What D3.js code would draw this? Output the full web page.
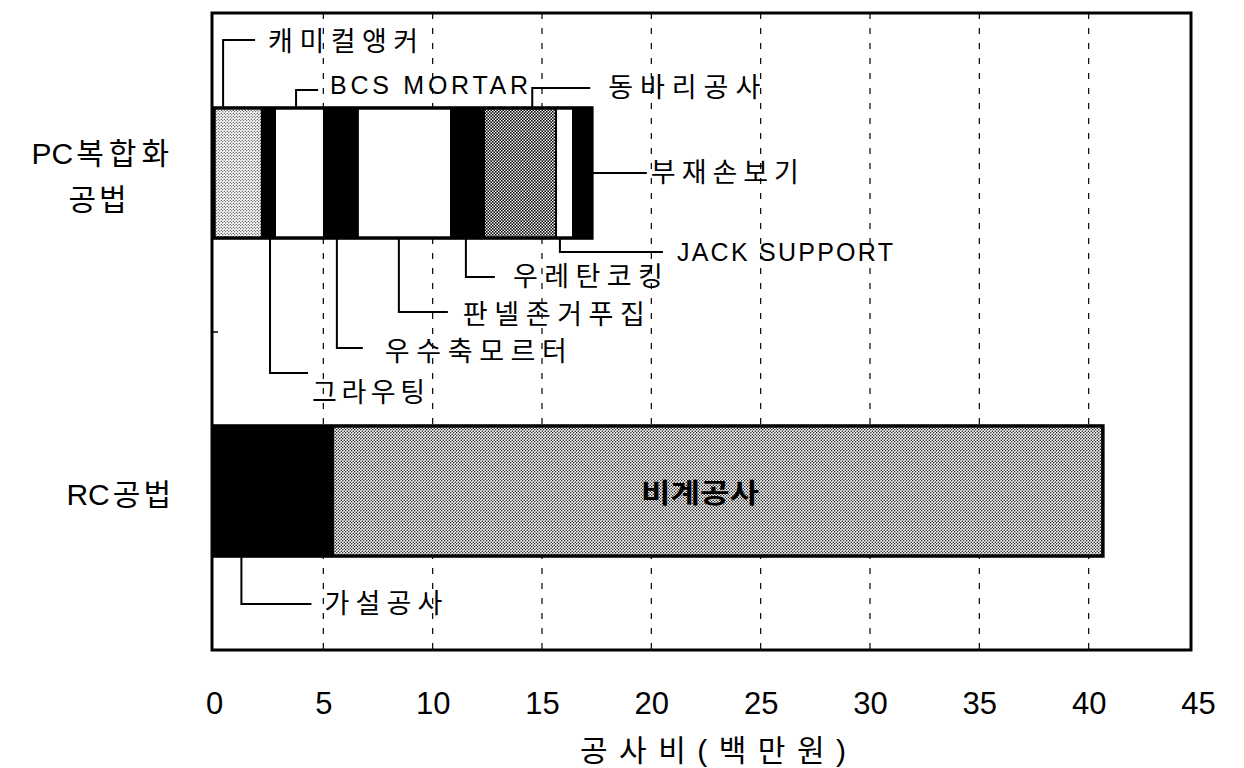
<!DOCTYPE html>
<html><head><meta charset="utf-8">
<script src="https://cdn.jsdelivr.net/npm/d3@7"></script>
<style>body{margin:0;background:#fff}</style>
</head><body><svg id="c" width="1244" height="768" xmlns="http://www.w3.org/2000/svg"></svg>
<script>
// ---------------- data ----------------
const categories = ["PC복합화 공법", "RC공법"];
const categoryLines = [[["PC", "복합화"], ["", "공법"]], [["RC", "공법"]]];
const pcItems = ["캐미컬앵커", "그라우팅", "BCS MORTAR", "우수축모르터", "판넬존거푸집", "우레탄코킹", "동바리공사", "JACK SUPPORT", "부재손보기"];
const pcValues = [2.19, 0.60, 2.24, 1.55, 4.26, 1.51, 3.29, 0.78, 0.86];
const pcFills = ["light", "black", "white", "black", "white", "black", "dark", "white", "black"];
const rcItems = ["가설공사", "비계공사"];
const rcValues = [5.45, 35.2];
const rcFills = ["black", "medium"];
const xTicks = [0, 5, 10, 15, 20, 25, 30, 35, 40, 45];
const gridTicks = [5, 10, 15, 20, 25, 30, 35, 40];
const xTitle = "공사비(백만원)";
const insideLabel = "비계공사";

// ---------------- layout (annotation placement, px) ----------------
const callouts = [
  {item: "캐미컬앵커", side: "top", frac: 0.19, off: 68, run: 32, gap: 13, dy: 2, tw: 150},
  {item: "BCS MORTAR", side: "top", frac: 0.43, off: 18, run: 22, gap: 12, dy: -5, tw: 198},
  {item: "동바리공사", side: "top", frac: 0.67, off: 20, run: 58, gap: 18, dy: 0, tw: 152},
  {item: "부재손보기", side: "right", frac: 1, off: 0, run: 55, gap: 4, dy: 0, tw: 148},
  {item: "JACK SUPPORT", side: "bottom", frac: 0.23, off: 14, run: 103, gap: 14, dy: 0, tw: 216},
  {item: "우레탄코킹", side: "bottom", frac: 0.45, off: 39, run: 29, gap: 18, dy: 0, tw: 150},
  {item: "판넬존거푸집", side: "bottom", frac: 0.44, off: 74, run: 49, gap: 15, dy: 3, tw: 182},
  {item: "우수축모르터", side: "bottom", frac: 0.38, off: 110, run: 26, gap: 22, dy: 4, tw: 182},
  {item: "그라우팅", side: "bottom", frac: 0.62, off: 135, run: 38, gap: 4, dy: 20, tw: 113},
  {item: "가설공사", side: "bottom", frac: 0.23, off: 48, run: 70, gap: 13, dy: 0, tw: 118}
];

const FONT = "'Liberation Sans', Arial, 'Noto Sans CJK KR', sans-serif";

const svg = d3.select("#c");
svg.append("rect").attr("width", 1244).attr("height", 768).attr("fill", "#fff");

const x = d3.scaleLinear().domain([0, 45]).range([214, 1198]);
const y = d3.scaleBand().domain(categories).range([14, 650]).paddingInner(0.591).paddingOuter(0.2955);
const frame = {x0: x(0) - 2, x1: x(44.68), y0: 13, y1: 650};

// ---------------- patterns ----------------
const defs = svg.append("defs");
function dotPattern(id, size, r) {
  const p = defs.append("pattern").attr("id", id).attr("patternUnits", "userSpaceOnUse")
    .attr("width", size).attr("height", size);
  p.append("rect").attr("width", size).attr("height", size).attr("fill", "#fff");
  p.append("circle").attr("cx", size / 4).attr("cy", size / 4).attr("r", r).attr("fill", "#000");
  p.append("circle").attr("cx", size * 3 / 4).attr("cy", size * 3 / 4).attr("r", r).attr("fill", "#000");
}
dotPattern("light", 3, 0.6);
dotPattern("medium", 3, 0.72);
dotPattern("dark", 3, 0.9);
const fillOf = f => f === "black" ? "#000" : f === "white" ? "#fff" : `url(#${f})`;

// ---------------- grid ----------------
svg.append("g").selectAll("line").data(gridTicks).join("line")
  .attr("x1", d => x(d)).attr("x2", d => x(d))
  .attr("y1", frame.y0).attr("y2", frame.y1)
  .attr("stroke", "#000").attr("stroke-width", 1.2).attr("stroke-dasharray", "6,9");

// ---------------- bars ----------------
function stackRows(items, values, fills, cat) {
  let acc = 0;
  return items.map((it, i) => {
    const r = {item: it, cat, start: acc, end: acc + values[i], fill: fills[i]};
    acc += values[i];
    return r;
  });
}
const pcRows = stackRows(pcItems, pcValues, pcFills, categories[0]);
const rcRows = stackRows(rcItems, rcValues, rcFills, categories[1]);
const allRows = pcRows.concat(rcRows);

const gBars = svg.append("g");
gBars.selectAll("rect.seg").data(allRows).join("rect").attr("class", "seg")
  .attr("x", d => x(d.start)).attr("width", d => x(d.end) - x(d.start))
  .attr("y", d => y(d.cat)).attr("height", y.bandwidth())
  .attr("fill", d => fillOf(d.fill)).attr("stroke", "#000").attr("stroke-width", 2);

const totals = [
  {cat: categories[0], total: d3.sum(pcValues)},
  {cat: categories[1], total: d3.sum(rcValues)}
];
gBars.selectAll("rect.outline").data(totals).join("rect").attr("class", "outline")
  .attr("x", x(0)).attr("width", d => x(d.total) - x(0))
  .attr("y", d => y(d.cat)).attr("height", y.bandwidth())
  .attr("fill", "none").attr("stroke", "#000").attr("stroke-width", 3.5);

// inside label
const rcBig = rcRows[1];
svg.append("text").text(insideLabel)
  .attr("x", (x(rcBig.start) + x(rcBig.end)) / 2 - 18)
  .attr("y", y(rcBig.cat) + y.bandwidth() / 2 + 3)
  .attr("text-anchor", "middle").attr("dominant-baseline", "central")
  .attr("font-family", FONT).attr("font-size", 27).attr("font-weight", "bold")
  .attr("textLength", 118).attr("lengthAdjust", "spacingAndGlyphs").attr("fill", "#000");

// ---------------- frame ----------------
svg.append("rect").attr("x", frame.x0).attr("y", frame.y0)
  .attr("width", frame.x1 - frame.x0).attr("height", frame.y1 - frame.y0)
  .attr("fill", "none").attr("stroke", "#000").attr("stroke-width", 3);
svg.append("line")
  .attr("x1", frame.x0).attr("x2", frame.x0 + 6)
  .attr("y1", (y(categories[0]) + y(categories[1]) + y.bandwidth()) / 2)
  .attr("y2", (y(categories[0]) + y(categories[1]) + y.bandwidth()) / 2)
  .attr("stroke", "#000").attr("stroke-width", 1.5);

// ---------------- x axis ----------------
const ax = svg.append("g").attr("transform", "translate(0,692)")
  .call(d3.axisBottom(x).tickValues(xTicks).tickSize(0).tickPadding(0).tickFormat(d3.format("d")));
ax.select(".domain").remove();
ax.selectAll("text").attr("font-family", "'Liberation Sans Narrow', 'Liberation Sans', Arial, sans-serif")
  .attr("font-size", 31).attr("fill", "#000");

svg.append("text").text(xTitle)
  .attr("x", 713).attr("y", 750).attr("text-anchor", "middle").attr("dominant-baseline", "central")
  .attr("font-family", FONT).attr("font-size", 30).attr("fill", "#000")
  .attr("textLength", 266).attr("lengthAdjust", "spacing");

// ---------------- y category labels ----------------
categories.forEach((c, ci) => {
  const lines = categoryLines[ci];
  const cy = y(c) + y.bandwidth() / 2 + 3;
  lines.forEach((ln, li) => {
    const yy = cy + (li - (lines.length - 1) / 2) * 46;
    const t = svg.append("text").attr("y", yy).attr("dominant-baseline", "central")
      .attr("font-family", FONT).attr("font-size", 30).attr("fill", "#000");
    t.append("tspan").text(ln[0]);
    t.append("tspan").text(ln[1]).attr("dx", ln[0] ? 3 : 0).attr("letter-spacing", ln[0] === "PC" ? 5 : 3);
    if (li === 0) {
      t.attr("x", frame.x0 - 38).attr("text-anchor", "end");
    } else {
      t.attr("x", frame.x0 - 38 - 75).attr("text-anchor", "middle");
    }
  });
});

// ---------------- callouts ----------------
const rowByItem = new Map(allRows.map(r => [r.item, r]));
const gC = svg.append("g");
callouts.forEach(c => {
  const r = rowByItem.get(c.item);
  const top = y(r.cat), bot = y(r.cat) + y.bandwidth();
  let ax0, ay0, ly, hx;
  if (c.side === "right") {
    ax0 = x(r.end); ay0 = top + y.bandwidth() / 2; ly = ay0; hx = ax0 + c.run;
  } else {
    ax0 = x(r.start + c.frac * (r.end - r.start));
    ay0 = c.side === "top" ? top : bot;
    ly = c.side === "top" ? top - c.off : bot + c.off;
    hx = ax0 + c.run;
  }
  gC.append("path").attr("d", `M${ax0},${ay0}V${ly}H${hx}`)
    .attr("fill", "none").attr("stroke", "#000").attr("stroke-width", 2);
  const latin = /^[A-Z ]+$/.test(c.item);
  gC.append("text").text(c.item)
    .attr("x", hx + c.gap).attr("y", ly + c.dy).attr("dominant-baseline", "central")
    .attr("font-family", FONT).attr("font-size", latin ? 25 : 27).attr("fill", "#000")
    .attr("textLength", c.tw).attr("lengthAdjust", "spacing");
});
</script></body></html>
